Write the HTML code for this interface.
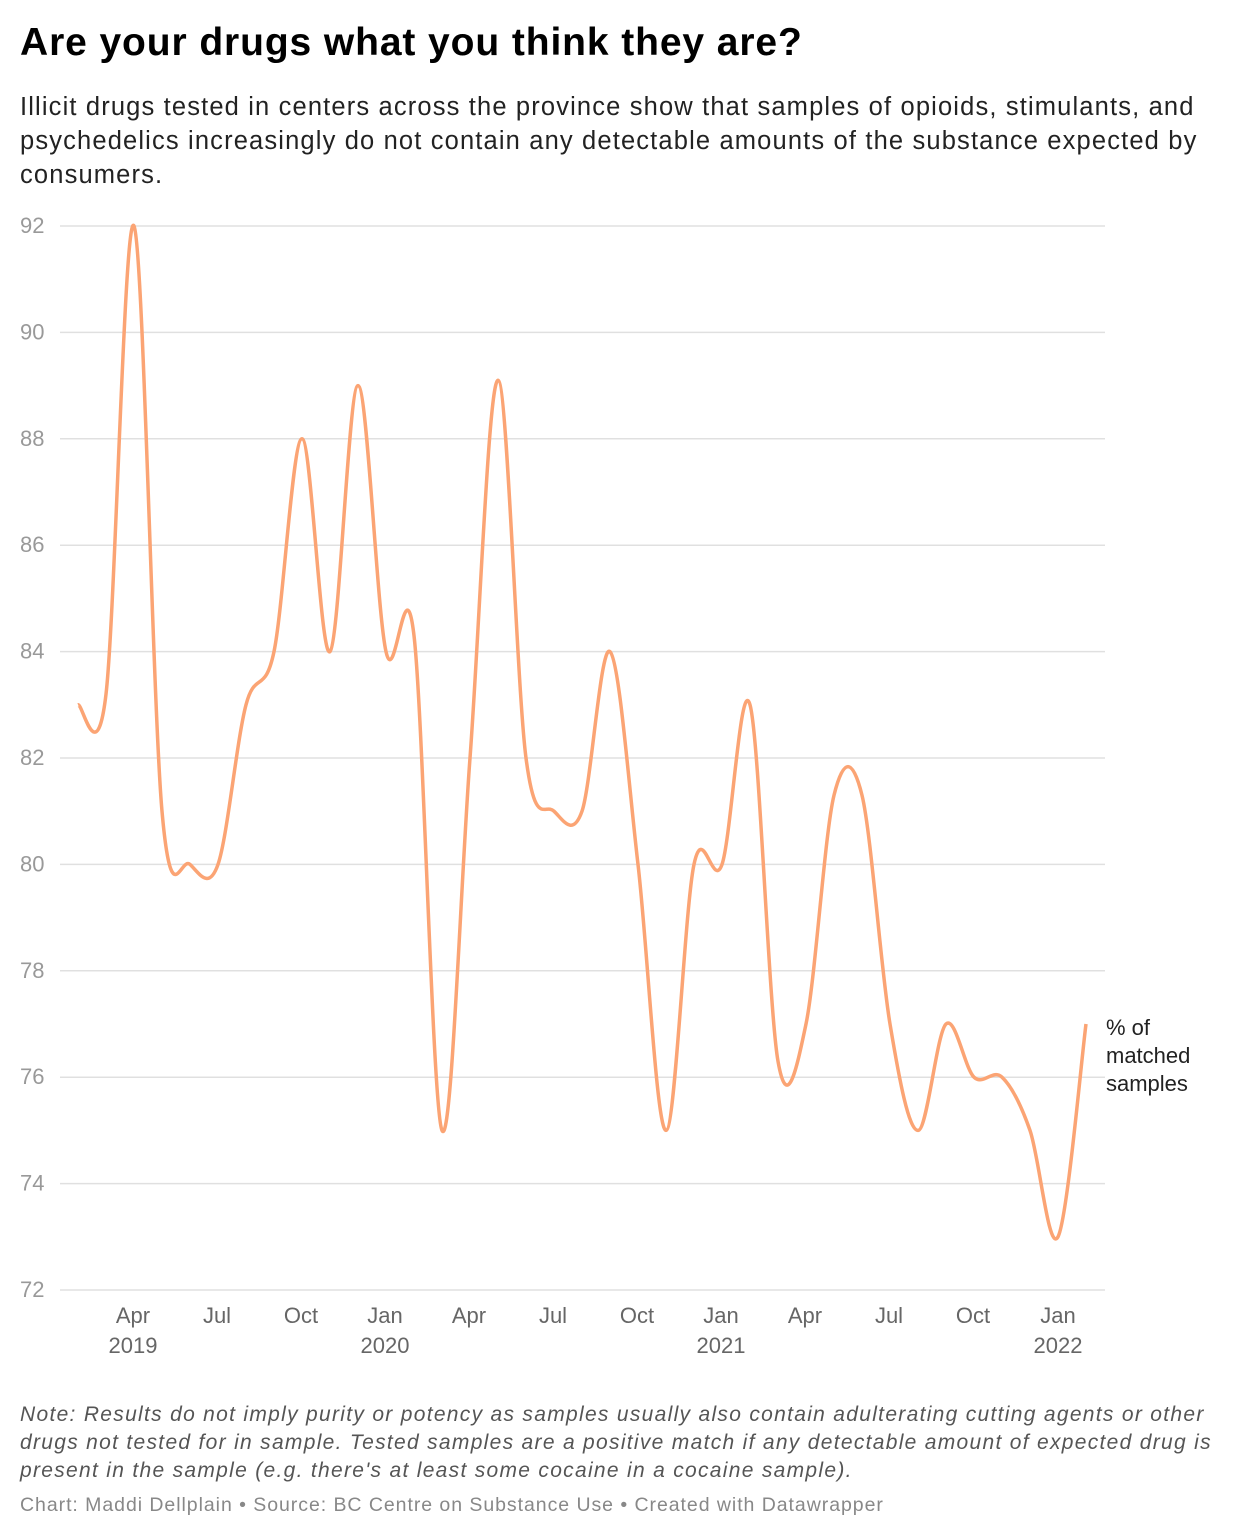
<!DOCTYPE html>
<html><head><meta charset="utf-8"><style>
body{margin:0;width:1240px;height:1540px;background:#fff;font-family:"Liberation Sans",sans-serif;position:relative;overflow:hidden}
h1{position:absolute;left:20px;top:21px;margin:0;font-size:39px;font-weight:bold;color:#000;letter-spacing:0.9px;white-space:nowrap}
.sub{position:absolute;left:20px;top:90px;width:1210px;font-size:25.5px;line-height:34px;color:#222;letter-spacing:1.15px;white-space:nowrap}
.note{position:absolute;left:20px;top:1401px;font-size:21px;line-height:28px;font-style:italic;color:#555;letter-spacing:1.3px;white-space:nowrap}
.src{position:absolute;left:20px;top:1494px;font-size:19.5px;color:#888;letter-spacing:0.95px;white-space:nowrap}
svg{position:absolute;left:0;top:0}
</style></head><body>
<h1>Are your drugs what you think they are?</h1>
<div class="sub">Illicit drugs tested in centers across the province show that samples of opioids, stimulants, and<br>psychedelics increasingly do not contain any detectable amounts of the substance expected by<br>consumers.</div>
<svg width="1240" height="1540" id="s" font-family="Liberation Sans, sans-serif">
<g id="grid" stroke="#e0e0e0" stroke-width="1.5"></g>
<g id="yl" fill="#999" font-size="22"></g>
<g id="xl" fill="#666" font-size="22" text-anchor="middle"></g>
<path id="line" fill="none" stroke="#fba474" stroke-width="3.5" stroke-linejoin="round"/>
<text x="1106" y="1035" font-size="22" fill="#222">% of</text>
<text x="1106" y="1063" font-size="22" fill="#222">matched</text>
<text x="1106" y="1091" font-size="22" fill="#222">samples</text>
</svg>
<div class="note">Note: Results do not imply purity or potency as samples usually also contain adulterating cutting agents or other<br>drugs not tested for in sample. Tested samples are a positive match if any detectable amount of expected drug is<br>present in the sample (e.g. there's at least some cocaine in a cocaine sample).</div>
<div class="src">Chart: Maddi Dellplain • Source: BC Centre on Substance Use • Created with Datawrapper</div>
<script>
var NS="http://www.w3.org/2000/svg";
function Y(v){return 226+(92-v)*53.2;}
function el(p,t,a,txt){var e=document.createElementNS(NS,t);for(var k in a)e.setAttribute(k,a[k]);if(txt)e.textContent=txt;document.getElementById(p).appendChild(e);}
for(var v=72;v<=92;v+=2){var y=Y(v);el("grid","line",{x1:60,x2:1105,y1:y,y2:y});el("yl","text",{x:20,y:y+7},String(v));}
var labs=[["Apr","2019",133],["Jul","",217],["Oct","",301],["Jan","2020",385],["Apr","",469],["Jul","",553],["Oct","",637],["Jan","2021",721],["Apr","",805],["Jul","",889],["Oct","",973],["Jan","2022",1058]];
labs.forEach(function(l){el("xl","text",{x:l[2],y:1323},l[0]);if(l[1])el("xl","text",{x:l[2],y:1353},l[1]);});
var d=[83,83.2,92,81,80,80,83,84,88,84,89,84,84.3,75,82,89.1,82,81,81,84,80,75,80,80,83,76.3,77,81.3,81.3,77,75,77,76,76,75,73,77];
var P=d.map(function(v,i){return [78+28*i,Y(v)];});
var s="M"+P[0][0]+","+P[0][1];
for(var i=0;i<P.length-1;i++){var p0=P[i-1]||P[i],p1=P[i],p2=P[i+1],p3=P[i+2]||p2;
s+=" C"+(p1[0]+(p2[0]-p0[0])/6)+","+(p1[1]+(p2[1]-p0[1])/6)+" "+(p2[0]-(p3[0]-p1[0])/6)+","+(p2[1]-(p3[1]-p1[1])/6)+" "+p2[0]+","+p2[1];}
document.getElementById("line").setAttribute("d",s);
</script>
</body></html>
